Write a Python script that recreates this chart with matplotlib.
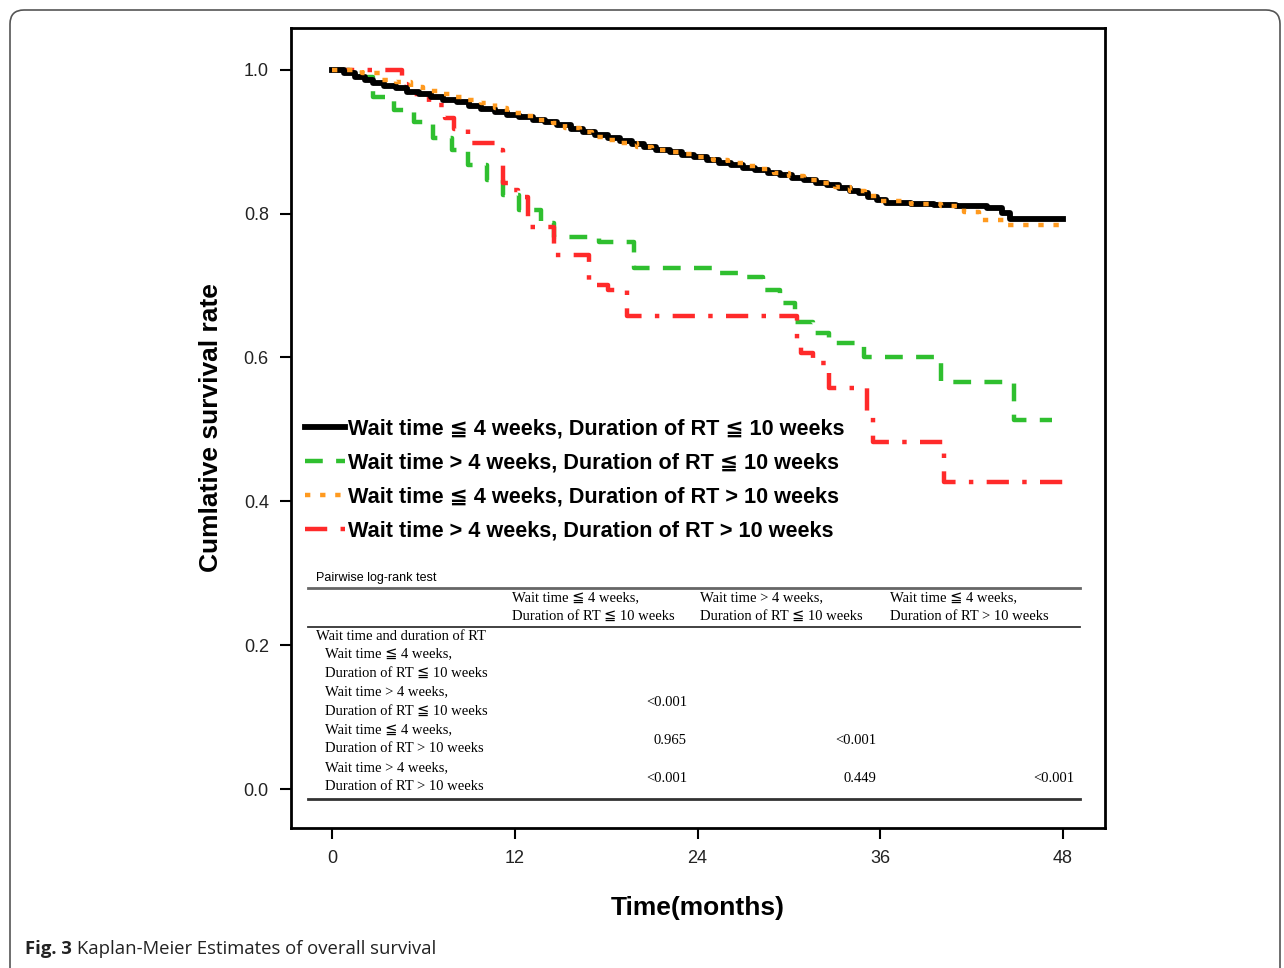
import matplotlib
matplotlib.use("Agg")
import matplotlib.pyplot as plt
from matplotlib.lines import Line2D
from matplotlib.patches import FancyBboxPatch

# Kaplan-Meier step curves (time in months, survival)
t_short_short = [0, 0.8, 1.5, 2.2, 2.7, 3.4, 4.2, 4.9, 5.7, 6.5, 7.3, 8.2, 9.0, 9.8, 10.7, 11.5, 12.3,
                 13.2, 14.0, 14.8, 15.7, 16.5, 17.3, 18.1, 18.9, 19.7, 20.5, 21.3, 22.2, 23.0, 23.8, 24.6,
                 25.4, 26.2, 27.0, 27.8, 28.6, 29.4, 30.2, 31.0, 31.8, 32.5, 33.3, 34.0, 34.6, 35.2, 35.8,
                 36.4, 38.0, 39.5, 41.0, 43.0, 44.0, 44.5, 48.0]
s_short_short = [1.0, 0.995, 0.990, 0.986, 0.982, 0.978, 0.975, 0.969, 0.966, 0.962, 0.958, 0.955, 0.950,
                 0.946, 0.941, 0.937, 0.934, 0.930, 0.927, 0.923, 0.918, 0.914, 0.909, 0.905, 0.901, 0.897,
                 0.893, 0.889, 0.886, 0.882, 0.878, 0.875, 0.871, 0.868, 0.864, 0.861, 0.857, 0.854, 0.850,
                 0.847, 0.843, 0.840, 0.836, 0.832, 0.828, 0.823, 0.819, 0.815, 0.814, 0.812, 0.810, 0.808,
                 0.801, 0.793, 0.793]

t_long_short = [0, 2.0, 2.7, 4.1, 5.4, 6.6, 7.9, 8.9, 10.2, 11.2, 12.3, 13.7, 14.6, 17.5, 19.8, 25.3,
                27.0, 28.3, 29.4, 30.4, 31.6, 32.6, 34.9, 40.0, 44.8, 47.3]
s_long_short = [1.0, 0.990, 0.962, 0.944, 0.928, 0.905, 0.889, 0.868, 0.847, 0.826, 0.805, 0.787, 0.768,
                0.761, 0.725, 0.718, 0.712, 0.694, 0.676, 0.650, 0.634, 0.620, 0.600, 0.566, 0.513, 0.513]

t_short_long = [0, 2.0, 3.2, 4.2, 5.2, 6.0, 7.0, 7.9, 8.9, 9.8, 10.7, 11.5, 12.5, 13.4, 14.5, 15.3, 16.3,
                17.1, 18.1, 19.0, 20.0, 21.0, 22.0, 23.0, 24.0, 25.0, 26.0, 27.0, 28.0, 29.0, 30.0, 31.0,
                32.0, 33.0, 34.0, 35.0, 36.0, 38.0, 40.0, 41.5, 42.5, 44.3, 48.0]
s_short_long = [1.0, 0.996, 0.986, 0.983, 0.976, 0.970, 0.966, 0.962, 0.958, 0.954, 0.947, 0.940, 0.935,
                0.930, 0.926, 0.919, 0.914, 0.907, 0.903, 0.898, 0.893, 0.889, 0.886, 0.883, 0.878, 0.874,
                0.870, 0.866, 0.862, 0.857, 0.852, 0.847, 0.842, 0.837, 0.832, 0.825, 0.818, 0.814, 0.810,
                0.802, 0.791, 0.784, 0.784]

t_long_long = [0, 4.6, 4.9, 6.4, 7.4, 8.0, 8.9, 10.8, 11.2, 11.6, 12.2, 12.9, 14.6, 16.9, 18.1, 19.4,
               30.5, 30.8, 31.6, 32.6, 35.1, 35.5, 40.2, 48.0]
s_long_long = [1.0, 0.980, 0.966, 0.951, 0.933, 0.917, 0.898, 0.889, 0.843, 0.833, 0.823, 0.782, 0.743,
               0.701, 0.694, 0.657, 0.624, 0.606, 0.592, 0.558, 0.518, 0.483, 0.427, 0.427]

legend_labels = [
    "Wait time \u2266 4 weeks, Duration of RT \u2266 10 weeks",
    "Wait time > 4 weeks, Duration of RT \u2266 10 weeks",
    "Wait time \u2266 4 weeks, Duration of RT > 10 weeks",
    "Wait time > 4 weeks, Duration of RT > 10 weeks",
]

x_ticks = [0, 12, 24, 36, 48]
y_ticks = [0.0, 0.2, 0.4, 0.6, 0.8, 1.0]

# pairwise log-rank table
table_title = "Pairwise log-rank test"
col_headers = [
    ("Wait time \u2266 4 weeks,", "Duration of RT \u2266 10 weeks"),
    ("Wait time > 4 weeks,", "Duration of RT \u2266 10 weeks"),
    ("Wait time \u2266 4 weeks,", "Duration of RT > 10 weeks"),
]
row_group = "Wait time and duration of RT"
row_labels = [
    ("Wait time \u2266 4 weeks,", "Duration of RT \u2266 10 weeks"),
    ("Wait time > 4 weeks,", "Duration of RT \u2266 10 weeks"),
    ("Wait time \u2266 4 weeks,", "Duration of RT > 10 weeks"),
    ("Wait time > 4 weeks,", "Duration of RT > 10 weeks"),
]
p_values = [
    ["", "", ""],
    ["<0.001", "", ""],
    ["0.965", "<0.001", ""],
    ["<0.001", "0.449", "<0.001"],
]

W, H = 1284, 968
fig = plt.figure(figsize=(W / 100, H / 100), dpi=100)
sans = ["Liberation Sans", "DejaVu Sans"]
serif = ["Liberation Serif", "DejaVu Sans"]


def fx(px):
    return px / W


def fy(py):
    return 1 - py / H


ax = fig.add_axes([fx(291), fy(828), (1105 - 291) / W, (828 - 28) / H])

green = "#2fbf2f"
red = "#ff2a2a"
orange = "#ff9a1f"

ax.step(t_long_short, s_long_short, where="post", color=green, lw=3.2, dashes=(4, 3), zorder=2)
ax.step(t_long_long, s_long_long, where="post", color=red, lw=3.2, dashes=(5, 3, 1, 3), zorder=2)
ax.step(t_short_short, s_short_short, where="post", color="black", lw=4.2, zorder=3)
ax.step(t_short_long, s_short_long, where="post", color=orange, lw=3.2, dashes=(1.2, 2.2), zorder=4)

ax.set_xlim(-2.69, 50.75)
ax.set_ylim(-0.054, 1.058)
ax.set_xticks(x_ticks)
ax.set_yticks(y_ticks)
ax.set_yticklabels([f"{v:.1f}" for v in y_ticks])
for lab in ax.get_xticklabels() + ax.get_yticklabels():
    lab.set_family(sans)
    lab.set_fontsize(13)
    lab.set_color("#222222")
ax.tick_params(direction="out", length=8, width=1.5, pad=8)
for sp in ax.spines.values():
    sp.set_linewidth(2)

ax.set_xlabel("Time(months)", fontsize=19, fontweight="bold", family=sans, labelpad=21)
ax.set_ylabel("Cumlative survival rate", fontsize=19, fontweight="bold", family=sans, labelpad=15)

handles = [
    Line2D([], [], color="black", lw=4.2),
    Line2D([], [], color=green, lw=3.2, dashes=(4, 3)),
    Line2D([], [], color=orange, lw=3.2, dashes=(1.2, 2.2)),
    Line2D([], [], color=red, lw=3.2, dashes=(5, 3, 1, 3)),
]
leg = ax.legend(handles, legend_labels, loc="upper left", bbox_to_anchor=(0.002, 0.527),
                prop={"family": sans, "weight": "bold", "size": 15.6}, frameon=True,
                framealpha=1, edgecolor="none", fancybox=False, handlelength=1.85,
                handletextpad=0.15, labelspacing=0.6, borderpad=0.55, borderaxespad=0)
leg.set_zorder(5)

# white backdrop for the table
ax.add_patch(FancyBboxPatch((fx(305), fy(805)), (1082 - 305) / W, (805 - 565) / H,
                            boxstyle="square,pad=0", transform=fig.transFigure,
                            facecolor="white", edgecolor="none", zorder=6))

fig.text(fx(316), fy(578), table_title, family=sans, fontsize=9, va="center", zorder=7)
for yy, lw, c in [(588, 2.0, "#666666"), (627, 1.3, "#333333"), (799, 2.0, "#333333")]:
    fig.add_artist(Line2D([fx(308), fx(1080)], [fy(yy), fy(yy)], transform=fig.transFigure,
                          color=c, lw=lw, zorder=7))

col_x = [512, 700, 890]
for cx, (l1, l2) in zip(col_x, col_headers):
    fig.text(fx(cx), fy(598), l1, family=serif, fontsize=10.5, va="center", zorder=7)
    fig.text(fx(cx), fy(616), l2, family=serif, fontsize=10.5, va="center", zorder=7)

fig.text(fx(316), fy(636), row_group, family=serif, fontsize=10.5, va="center", zorder=7)
row_y = [654, 692, 730, 768]
for ry, (l1, l2) in zip(row_y, row_labels):
    fig.text(fx(325), fy(ry), l1, family=serif, fontsize=10.5, va="center", zorder=7)
    fig.text(fx(325), fy(ry + 19), l2, family=serif, fontsize=10.5, va="center", zorder=7)

val_x = [687, 876, 1074]
for ry, row in zip(row_y, p_values):
    for vx, v in zip(val_x, row):
        if v:
            fig.text(fx(vx), fy(ry + 10), v, family=serif, fontsize=10.5, va="center", ha="right", zorder=7)

# outer rounded frame and caption
fig.add_artist(FancyBboxPatch((10, -30), 1270, 958 + 30, boxstyle="round,pad=0,rounding_size=14",
                              transform=None, facecolor="none", edgecolor="#555555", lw=1.2))
cap1 = fig.text(fx(25), fy(949), "Fig. 3", family=["Open Sans", "DejaVu Sans"], fontweight="bold",
                fontsize=13.3, va="center", color="#222222")
fig.canvas.draw()
bb = cap1.get_window_extent()
fig.text((bb.x1 + 5) / W, fy(949), "Kaplan-Meier Estimates of overall survival",
         family=["Open Sans", "DejaVu Sans"], fontsize=13.3, va="center", color="#222222")

fig.savefig("out.png", dpi=100)
